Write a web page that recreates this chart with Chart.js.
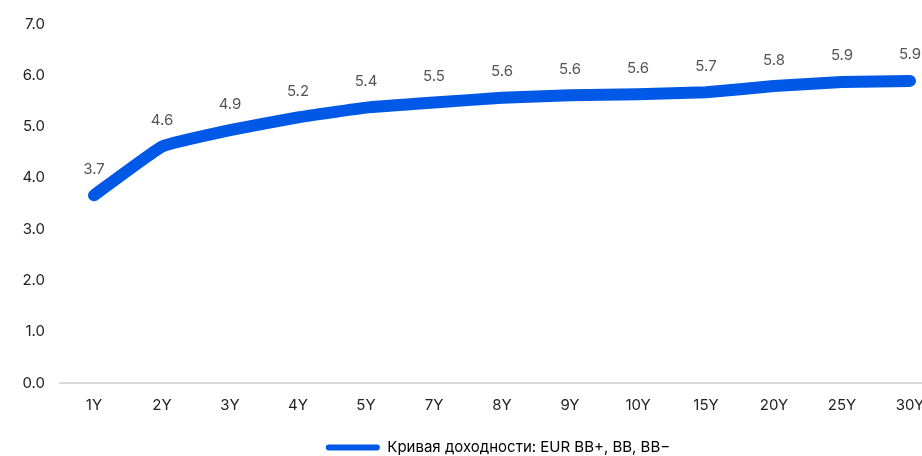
<!DOCTYPE html>
<html>
<head>
<meta charset="utf-8">
<script src="https://cdn.jsdelivr.net/npm/chart.js@4.4.1/dist/chart.umd.min.js"></script>
<style>
  html, body { margin: 0; padding: 0; overflow: hidden; background: #fff; }
  #wrap { width: 996px; height: 456px; }
</style>
</head>
<body>
<div id="wrap"><canvas id="curve" width="996" height="456"></canvas></div>
<script>
var tenors = ['1Y', '2Y', '3Y', '4Y', '5Y', '7Y', '8Y', '9Y', '10Y', '15Y', '20Y', '25Y', '30Y'];
var yields = [3.66, 4.61, 4.93, 5.18, 5.37, 5.47, 5.56, 5.61, 5.63, 5.67, 5.79, 5.87, 5.89];
var seriesName = 'Кривая доходности: EUR BB+, BB, BB\u2212';
var yTicks = [0, 1, 2, 3, 4, 5, 6, 7];

(function () {
    'use strict';

    var blue = '#0058e6';
    var fontFamily = 'Inter, "Noto Sans", sans-serif';

    // подписи значений над точками
    var valueLabels = {
        id: 'valueLabels',
        afterDatasetsDraw: function (chart) {
            var ctx = chart.ctx;
            var meta = chart.getDatasetMeta(0);
            ctx.save();
            ctx.font = '15px ' + fontFamily;
            ctx.fillStyle = '#555555';
            ctx.textAlign = 'center';
            ctx.textBaseline = 'middle';
            meta.data.forEach(function (pt, i) {
                ctx.fillText(yields[i].toFixed(1), pt.x, pt.y - 26);
            });
            ctx.restore();
        }
    };

    new Chart(document.getElementById('curve'), {
        type: 'line',
        data: {
            labels: tenors,
            datasets: [{
                label: seriesName,
                data: yields,
                borderColor: blue,
                backgroundColor: blue,
                borderWidth: 12,
                borderCapStyle: 'round',
                borderJoinStyle: 'round',
                pointRadius: 0,
                pointHoverRadius: 0,
                tension: 0.1,
                yAxisID: 'y'
            }]
        },
        options: {
            responsive: false,
            animation: false,
            devicePixelRatio: 1,
            layout: { padding: { top: 12, bottom: -9 } },
            plugins: {
                tooltip: { enabled: false },
                legend: {
                    position: 'bottom',
                    labels: {
                        boxWidth: 54,
                        boxHeight: 6,
                        padding: 2,
                        color: '#222222',
                        font: { family: fontFamily, size: 15 },
                        generateLabels: function () {
                            return [{
                                text: seriesName,
                                fillStyle: blue,
                                strokeStyle: blue,
                                lineWidth: 0,
                                borderRadius: 3,
                                datasetIndex: 0
                            }];
                        },
                        useBorderRadius: true
                    }
                }
            },
            scales: {
                x: {
                    offset: true,
                    grid: { display: false, drawTicks: false },
                    border: { display: true, color: '#d9d9d9', width: 2 },
                    ticks: {
                        padding: 13,
                        color: '#222222',
                        font: { family: fontFamily, size: 15 },
                        maxRotation: 0,
                        autoSkip: false
                    },
                    afterFit: function (scale) { scale.height = 55; }
                },
                y: {
                    min: 0,
                    max: 7,
                    afterBuildTicks: function (scale) {
                        scale.ticks = yTicks.map(function (v) { return { value: v }; });
                    },
                    grid: { display: false, drawTicks: false },
                    border: { display: false },
                    ticks: {
                        padding: 15,
                        color: '#222222',
                        font: { family: fontFamily, size: 15 },
                        callback: function (v) { return Number(v).toFixed(1); }
                    },
                    afterFit: function (scale) { scale.width = 60; }
                },
                // пустая ось справа, чтобы область графика уходила за край как в оригинале
                yRight: {
                    position: 'right',
                    grid: { display: false, drawTicks: false },
                    border: { display: false },
                    ticks: { display: false },
                    afterFit: function (scale) { scale.width = 52; }
                }
            }
        },
        plugins: [valueLabels]
    });
})();
</script>
</body>
</html>
